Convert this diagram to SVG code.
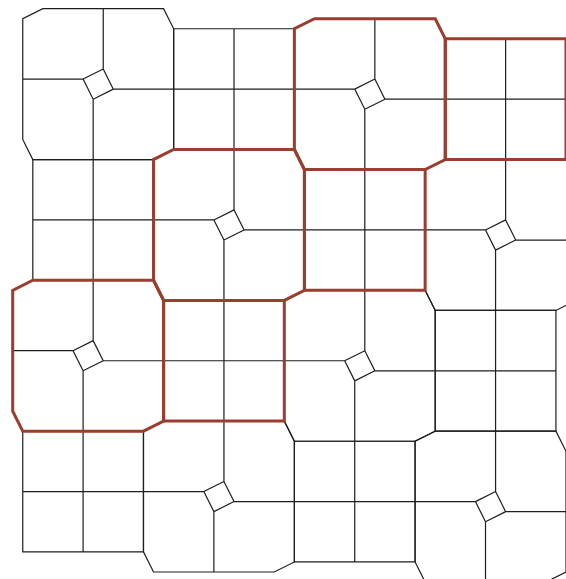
<svg xmlns="http://www.w3.org/2000/svg" xmlns:xlink="http://www.w3.org/1999/xlink" width="566" height="579" viewBox="0 0 566 579">
<style>
.ln{fill:none;stroke:#1e1e1e;stroke-width:1.2;stroke-linejoin:miter}
.hl{fill:none;stroke:#9b3d2f;stroke-width:3;stroke-linejoin:miter}
</style>
<defs>
<path id="pw" d="M-55,-75 L65,-75 L75,-55 L75,65 L55,75 L-65,75 L-75,55 L-75,-65 Z M5,-15 L15,5 L-5,15 L-15,-5 Z M5,-15 V-75 M15,5 H75 M-5,15 V75 M-15,-5 H-75"/>
<path id="sq" d="M-60,-60 H60 V60 H-60 Z M0,-60 V60 M-60,0 H60"/>
<path id="pwo" d="M-55,-75 L65,-75 L75,-55 L75,65 L55,75 L-65,75 L-75,55 L-75,-65 Z"/>
<path id="sqo" d="M-60,-60 H60 V60 H-60 Z"/>
</defs>
<rect width="566" height="579" fill="#fff"/>
<g transform="translate(98.2,84.1) scale(1.006)">
<g id="tiles" class="ln">
<g id="pinwheel-1"><use xlink:href="#pw" transform="translate(0,0)"/></g>
<g id="pinwheel-2"><use xlink:href="#pw" transform="translate(270,10)"/></g>
<g id="pinwheel-3"><use xlink:href="#pw" transform="translate(130,140)"/></g>
<g id="pinwheel-4"><use xlink:href="#pw" transform="translate(400,150)"/></g>
<g id="pinwheel-5"><use xlink:href="#pw" transform="translate(-10,270)"/></g>
<g id="pinwheel-6"><use xlink:href="#pw" transform="translate(260,280)"/></g>
<g id="pinwheel-7"><use xlink:href="#pw" transform="translate(120,410)"/></g>
<g id="pinwheel-8"><use xlink:href="#pw" transform="translate(390,420)"/></g>
<g id="square-1"><use xlink:href="#sq" transform="translate(135,5)"/></g>
<g id="square-2"><use xlink:href="#sq" transform="translate(405,15)"/></g>
<g id="square-3"><use xlink:href="#sq" transform="translate(-5,135)"/></g>
<g id="square-4"><use xlink:href="#sq" transform="translate(265,145)"/></g>
<g id="square-5"><use xlink:href="#sq" transform="translate(125,275)"/></g>
<g id="square-6"><use xlink:href="#sq" transform="translate(395,285)"/></g>
<g id="square-7"><use xlink:href="#sq" transform="translate(-15,405)"/></g>
<g id="square-8"><use xlink:href="#sq" transform="translate(255,415)"/></g>
</g>
<g id="highlight" class="hl">
<use xlink:href="#pwo" transform="translate(270,10)"/>
<use xlink:href="#pwo" transform="translate(130,140)"/>
<use xlink:href="#pwo" transform="translate(-10,270)"/>
<use xlink:href="#sqo" transform="translate(405,15)"/>
<use xlink:href="#sqo" transform="translate(265,145)"/>
<use xlink:href="#sqo" transform="translate(125,275)"/>
</g>
</g>
</svg>
